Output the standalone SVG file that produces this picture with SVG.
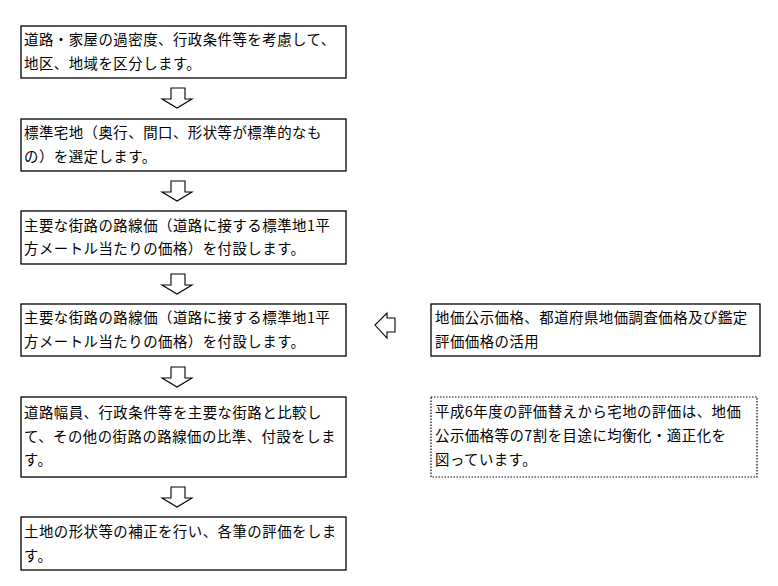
<svg xmlns="http://www.w3.org/2000/svg" width="778" height="586" viewBox="0 0 778 586">
<style>
.box{fill:#fff;stroke:#000;stroke-width:1.3}
.dot{fill:#fff;stroke:#000;stroke-width:1.2;stroke-dasharray:1.5 1.5}
.t{font-family:"Noto Sans CJK JP","Noto Sans CJK SC",sans-serif;font-size:14.4px;letter-spacing:0.5px;fill:#000}
.arr{fill:#fff;stroke:#000;stroke-width:1.1}
</style>
<rect width="778" height="586" fill="#fff"/>
<g id="n1"><rect class="box" x="21" y="26" width="325" height="52"/>
<text class="t" x="24" y="45">道路・家屋の過密度、行政条件等を考慮して、</text>
<text class="t" x="24" y="68.5">地区、地域を区分します。</text></g>
<g id="n2"><rect class="box" x="21" y="119" width="325" height="52"/>
<text class="t" x="24" y="138">標準宅地（奥行、間口、形状等が標準的なも</text>
<text class="t" x="24" y="161.5">の）を選定します。</text></g>
<g id="n3"><rect class="box" x="21" y="211" width="325" height="53"/>
<text class="t" x="24" y="230.5">主要な街路の路線価（道路に接する標準地1平</text>
<text class="t" x="24" y="254">方メートル当たりの価格）を付設します。</text></g>
<g id="n4"><rect class="box" x="21" y="304" width="325" height="52"/>
<text class="t" x="24" y="323">主要な街路の路線価（道路に接する標準地1平</text>
<text class="t" x="24" y="346.5">方メートル当たりの価格）を付設します。</text></g>
<g id="n5"><rect class="box" x="21" y="397" width="325" height="80"/>
<text class="t" x="24" y="418">道路幅員、行政条件等を主要な街路と比較し</text>
<text class="t" x="24" y="441.5">て、その他の街路の路線価の比準、付設をしま</text>
<text class="t" x="24" y="465">す。</text></g>
<g id="n6"><rect class="box" x="21" y="517" width="325" height="53"/>
<text class="t" x="24" y="537">土地の形状等の補正を行い、各筆の評価をしま</text>
<text class="t" x="24" y="560.5">す。</text></g>
<g id="n7"><rect class="box" x="431" y="304" width="329" height="52"/>
<text class="t" x="435" y="323">地価公示価格、都道府県地価調査価格及び鑑定</text>
<text class="t" x="435" y="346.5">評価価格の活用</text></g>
<g id="n8"><rect class="dot" x="431" y="397" width="326" height="80"/>
<text class="t" x="435" y="417">平成6年度の評価替えから宅地の評価は、地価</text>
<text class="t" x="435" y="441">公示価格等の7割を目途に均衡化・適正化を</text>
<text class="t" x="435" y="465">図っています。</text></g>
<g id="connectors">
<path class="arr" d="M171,88 H185 V99 H192 L177,108 L162,99 H171 Z"/>
<path class="arr" d="M171,181 H185 V192 H192 L177,201 L162,192 H171 Z"/>
<path class="arr" d="M171,274 H185 V285 H192 L177,294 L162,285 H171 Z"/>
<path class="arr" d="M171,367 H185 V378 H192 L177,387 L162,378 H171 Z"/>
<path class="arr" d="M171,487 H185 V498 H192 L177,507 L162,498 H171 Z"/>
<path class="arr" d="M395,318 V332 H387 V338 L375,325 L387,313 V318 Z"/>
</g>
</svg>
